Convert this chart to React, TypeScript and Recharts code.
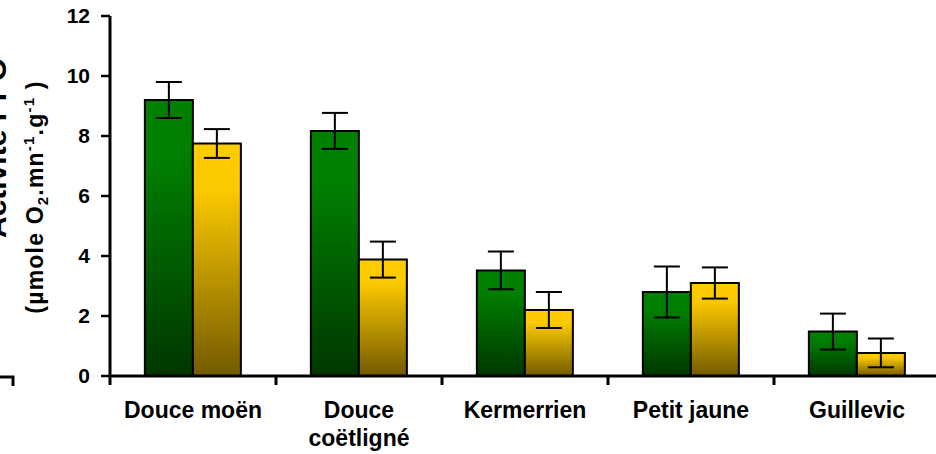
import React from 'react';
import { Bar, BarChart, ErrorBar, XAxis, YAxis } from 'recharts';

// PPO activity per cultivar, two series (green / yellow) with SD
const cultivars = ['Douce moën', 'Douce coëtligné', 'Kermerrien', 'Petit jaune', 'Guillevic'];
const cultivarLines = [['Douce moën'], ['Douce', 'coëtligné'], ['Kermerrien'], ['Petit jaune'], ['Guillevic']];
const greenValues = [9.2, 8.17, 3.52, 2.8, 1.48];
const greenErrors = [0.6, 0.6, 0.63, 0.85, 0.6];
const yellowValues = [7.75, 3.88, 2.2, 3.1, 0.77];
const yellowErrors = [0.48, 0.6, 0.6, 0.52, 0.48];
const yTicks = [0, 2, 4, 6, 8, 10, 12];

const data = cultivars.map((name, i) => ({
  name,
  green: greenValues[i],
  greenErr: greenErrors[i],
  yellow: yellowValues[i],
  yellowErr: yellowErrors[i],
}));

const FONT = '"Liberation Sans", Arial, sans-serif';

// ticks sit on the category boundaries, labels in the middle (wrapped by hand)
const CategoryTick = (props: any) => {
  const { x, y, payload, index } = props;
  const half = payload && payload.offset > 0 ? payload.offset : 83;
  const lines = cultivarLines[index] ?? [String(payload.value)];
  return (
    <g>
      <line x1={x - half} x2={x - half} y1={y - 8} y2={y + 1} stroke="#000" strokeWidth={3} />
      <text x={x} y={y + 34} textAnchor="middle" fontSize={23} fontWeight="bold" fill="#000" fontFamily={FONT}>
        {lines.map((line, i) => (
          <tspan key={i} x={x} dy={i === 0 ? 0 : 28}>
            {line}
          </tspan>
        ))}
      </text>
    </g>
  );
};

const AxisTitle = (props: any) => {
  const vb = props.viewBox;
  const cy = vb ? vb.y + vb.height / 2 : 196;
  return (
    <g fontFamily={FONT} fontWeight="bold" fill="#000">
      <text x={6} y={cy - 48} transform={`rotate(-90, 6, ${cy - 48})`} textAnchor="middle" fontSize={30}>
        Activité PPO
      </text>
      <text
        x={43}
        y={cy + 1}
        transform={`rotate(-90, 43, ${cy + 1})`}
        textAnchor="middle"
        fontSize={23}
        letterSpacing={1.2}
      >
        (µmole O
        <tspan dy={5} fontSize={15}>2</tspan>
        <tspan dy={-5}>.mn</tspan>
        <tspan dy={-9} fontSize={15}>-1</tspan>
        <tspan dy={9}>.g</tspan>
        <tspan dy={-9} fontSize={15}>-1</tspan>
        <tspan dy={9}> )</tspan>
      </text>
      <path d="M0,377 H13 V386" fill="none" stroke="#000" strokeWidth={3} />
    </g>
  );
};

const App: React.FC = () => (
  <div style={{ position: 'absolute', left: 0, top: 0, width: 936, height: 454, background: '#fff', fontFamily: FONT }}>
    <BarChart
      width={936}
      height={454}
      data={data}
      margin={{ top: 16, right: -4, bottom: 0, left: 0 }}
      barCategoryGap="21%"
      barGap={0}
    >
      <defs>
        <linearGradient id="greenFill" x1="0" y1="0" x2="0" y2="1">
          <stop offset="0%" stopColor="#008000" />
          <stop offset="22%" stopColor="#007e00" />
          <stop offset="100%" stopColor="#003600" />
        </linearGradient>
        <linearGradient id="yellowFill" x1="0" y1="0" x2="0" y2="1">
          <stop offset="0%" stopColor="#ffcc00" />
          <stop offset="20%" stopColor="#fbc900" />
          <stop offset="100%" stopColor="#735a00" />
        </linearGradient>
      </defs>
      <XAxis
        dataKey="name"
        height={78}
        axisLine={{ stroke: '#000', strokeWidth: 3 }}
        tickLine={false}
        tickSize={8}
        tickMargin={0}
        interval={0}
        tick={<CategoryTick />}
      />
      <YAxis
        width={110}
        domain={[0, 12]}
        ticks={yTicks}
        interval={0}
        axisLine={{ stroke: '#000', strokeWidth: 3 }}
        tickLine={{ stroke: '#000', strokeWidth: 2.5 }}
        tickSize={9}
        tickMargin={11}
        tick={{ fill: '#000', fontSize: 21, fontWeight: 'bold', fontFamily: FONT }}
        label={<AxisTitle />}
      />
      <Bar dataKey="green" fill="url(#greenFill)" stroke="#000" strokeWidth={2} isAnimationActive={false}>
        <ErrorBar dataKey="greenErr" width={13} stroke="#000" strokeWidth={2} direction="y" />
      </Bar>
      <Bar dataKey="yellow" fill="url(#yellowFill)" stroke="#000" strokeWidth={2} isAnimationActive={false}>
        <ErrorBar dataKey="yellowErr" width={13} stroke="#000" strokeWidth={2} direction="y" />
      </Bar>
    </BarChart>
  </div>
);

export default App;
